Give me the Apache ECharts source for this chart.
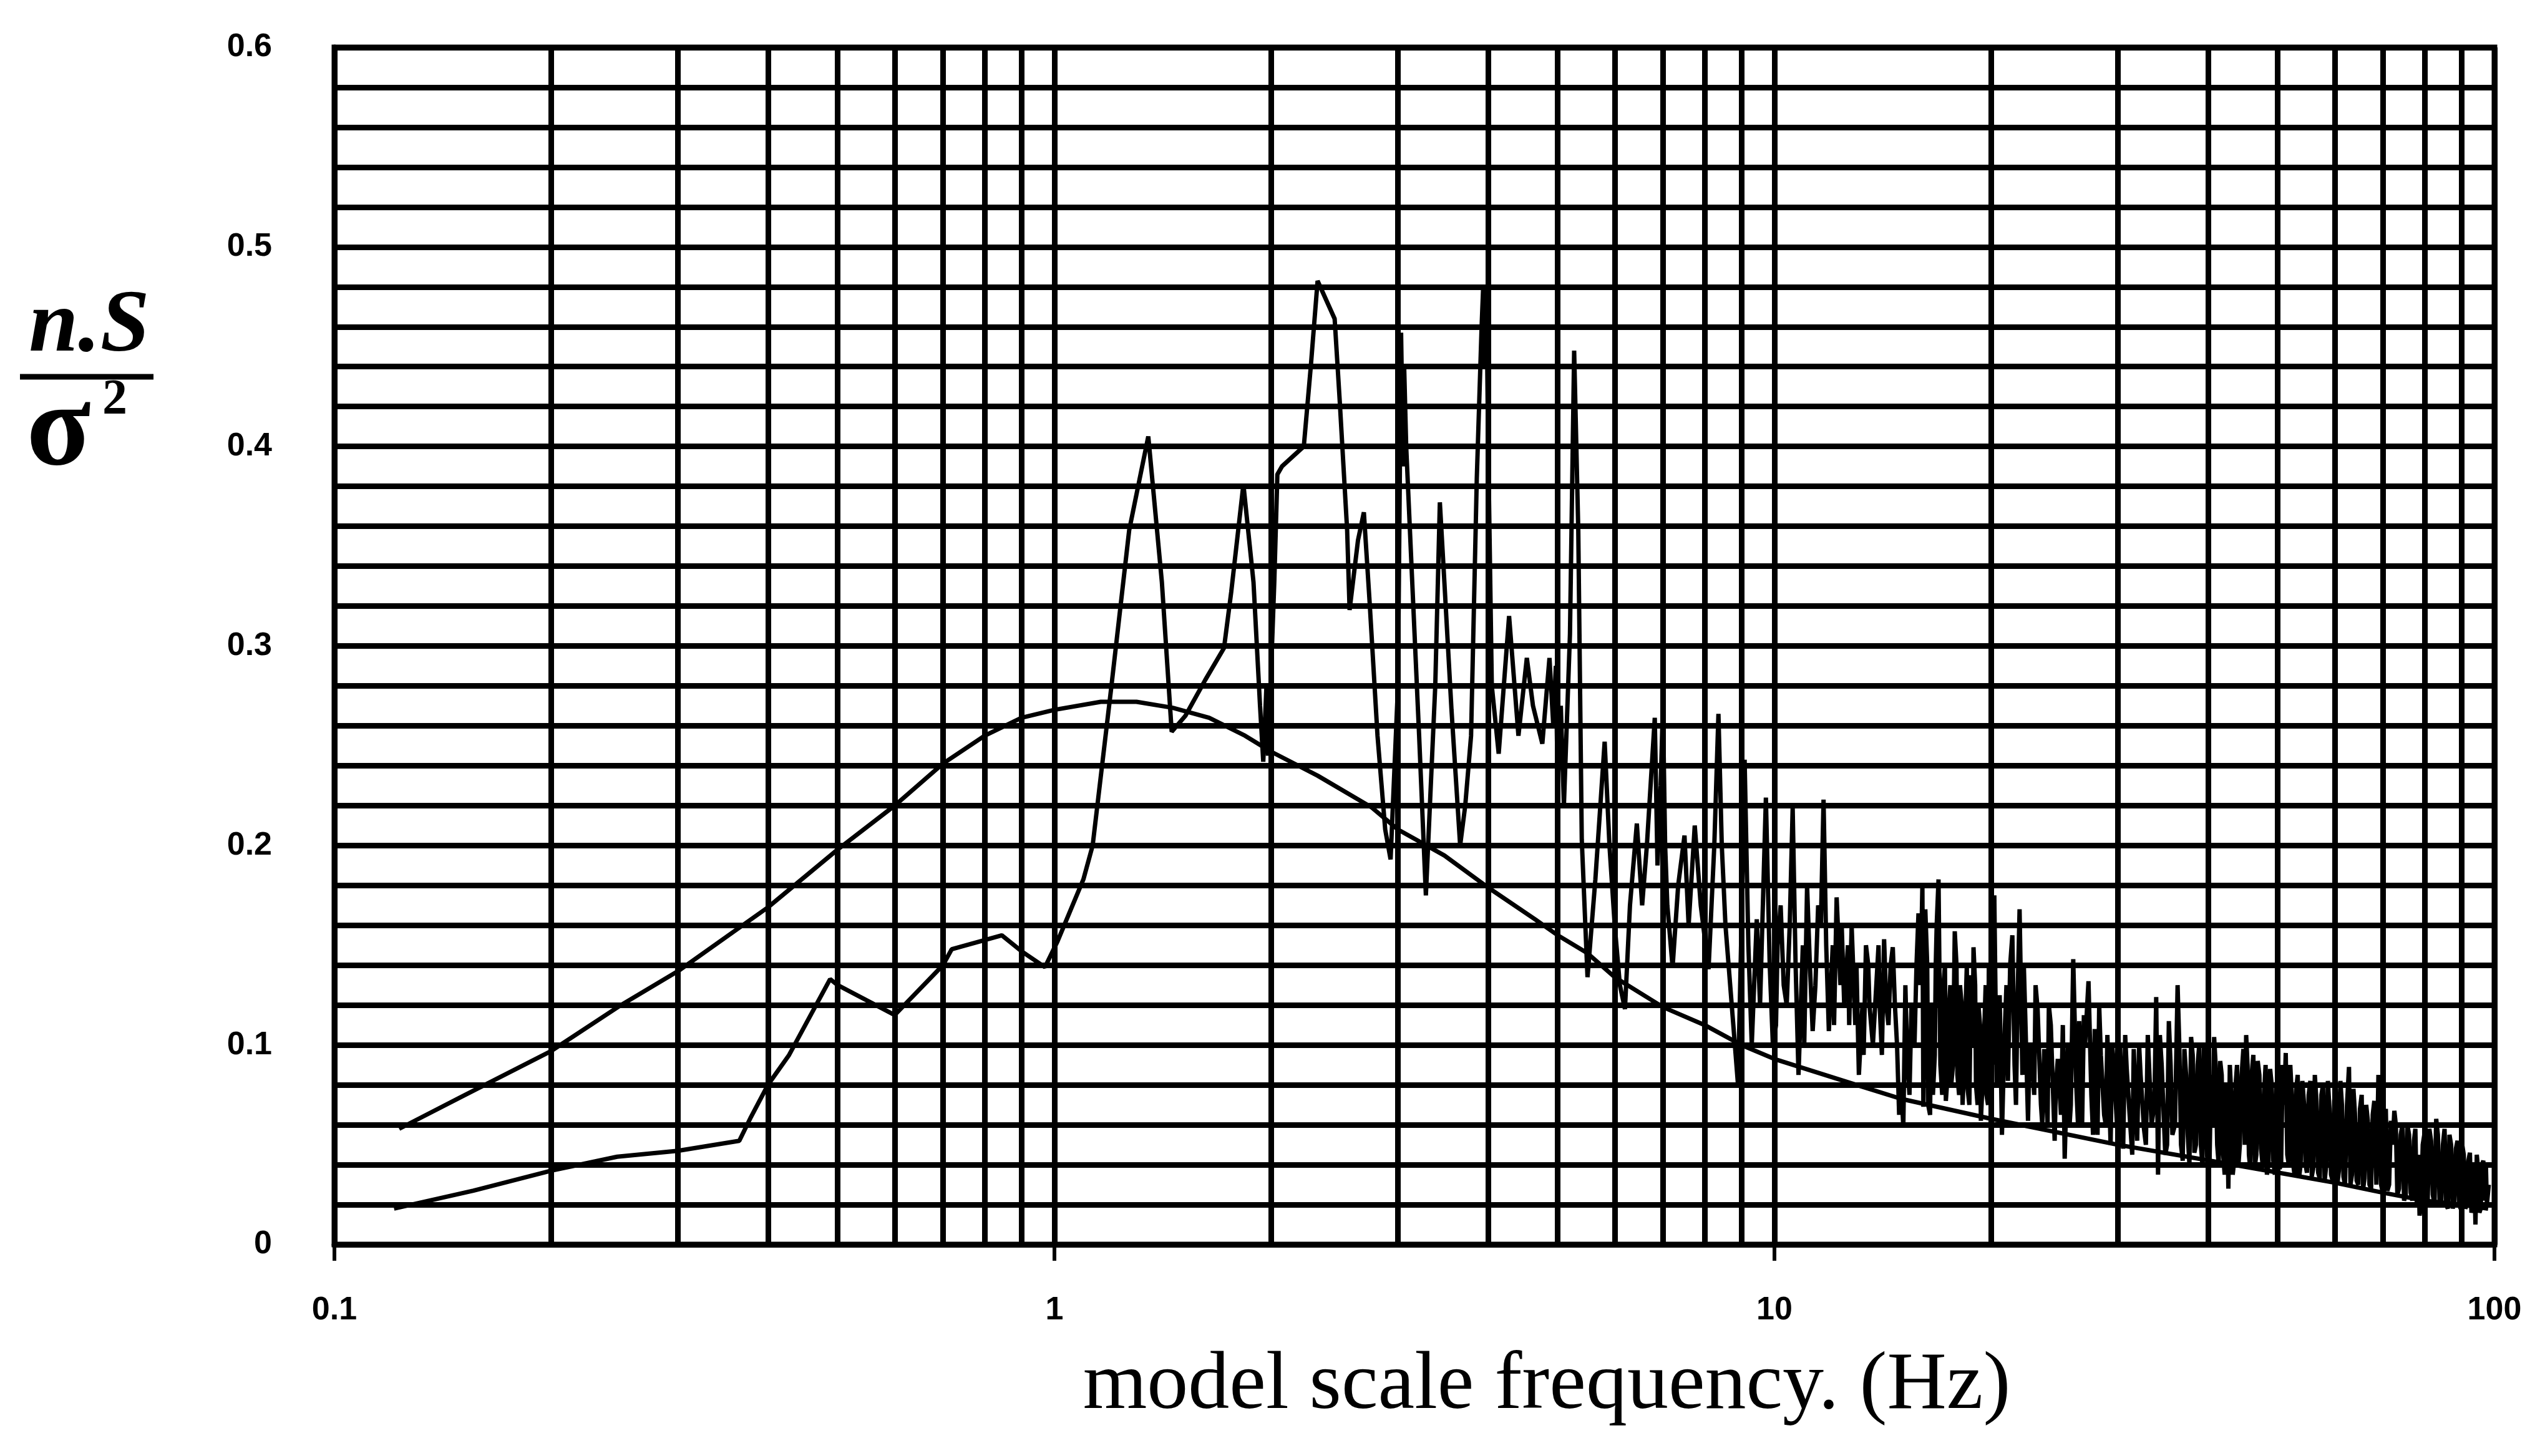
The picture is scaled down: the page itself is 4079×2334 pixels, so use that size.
<!DOCTYPE html>
<html>
<head>
<meta charset="utf-8">
<script src="https://cdn.jsdelivr.net/npm/echarts@6/dist/echarts.min.js"></script>
<style>
html,body{margin:0;padding:0;background:#fff;}
#chart{width:4079px;height:2334px;}
</style>
</head>
<body>
<div id="chart"></div>
<script>
// ---------- data ----------
const xTickLabels = ['0.1', '1', '10', '100'];
const yTickLabels = ['0', '0.1', '0.2', '0.3', '0.4', '0.5', '0.6'];
const minorXLines = [0.2,0.3,0.4,0.5,0.6,0.7,0.8,0.9,2,3,4,5,6,7,8,9,20,30,40,50,60,70,80,90];

// smooth (theoretical) spectrum
const theoryFreq = [0.123,0.15,0.2,0.25,0.3,0.4,0.5,0.6,0.7,0.8,0.9,1.0,1.16,1.3,1.46,1.64,1.84,2.0,2.32,2.76,3.0,3.48,4.0,4.65,5.0,5.5,6,7,8,9,10,13,15,20,30,45,60,70,80,90,98];
const theoryVal  = [0.058,0.074,0.097,0.12,0.137,0.169,0.198,0.22,0.241,0.255,0.264,0.268,0.272,0.272,0.269,0.264,0.255,0.247,0.235,0.219,0.208,0.195,0.179,0.163,0.155,0.146,0.134,0.119,0.11,0.10,0.093,0.08,0.073,0.063,0.05,0.039,0.031,0.026,0.022,0.02,0.018];

// measured spectrum, [frequency, n.S/sigma^2]
const measuredLow = [
[0.121,0.018],[0.156,0.027],[0.2,0.037],[0.247,0.044],[0.3,0.047],[0.365,0.052],[0.379,0.064],[0.4,0.08],
[0.428,0.095],[0.488,0.133],[0.5,0.13],[0.6,0.115],[0.7,0.14],[0.72,0.148],[0.845,0.155],[0.9,0.147],[0.97,0.139]
];
const measuredMid = [
[1.01,0.152],[1.097,0.183],[1.13,0.20],[1.20,0.28],[1.27,0.358],[1.35,0.405],[1.41,0.332],[1.455,0.257],
[1.52,0.265],[1.62,0.283],[1.72,0.299],[1.76,0.327],[1.83,0.381],[1.89,0.332],[1.93,0.27],[1.95,0.242],
[1.97,0.28],[1.98,0.245],[2.02,0.332],[2.04,0.386],[2.07,0.39],[2.22,0.40],[2.27,0.44],[2.32,0.483],
[2.45,0.464],[2.49,0.423],[2.55,0.358],[2.57,0.318],[2.64,0.353],[2.69,0.367],[2.74,0.322],[2.81,0.255],
[2.88,0.208],[2.93,0.193],[3.0,0.28],[3.03,0.457],[3.05,0.39],[3.06,0.44],[3.08,0.40],[3.14,0.332],
[3.21,0.255],[3.28,0.175],[3.38,0.28],[3.43,0.372],[3.48,0.332],[3.56,0.268],[3.66,0.20],[3.72,0.22],
[3.79,0.255],[3.86,0.384],[3.92,0.46],[3.94,0.48],[3.96,0.44],[3.98,0.48],[4.0,0.41],[4.05,0.28],
[4.14,0.246],[4.28,0.315],[4.41,0.255],[4.53,0.294],[4.62,0.27],[4.76,0.251],[4.87,0.294],[4.93,0.26],
[4.97,0.29],[5.0,0.229],[5.05,0.27],[5.1,0.22],[5.2,0.306],[5.27,0.448],[5.34,0.358],[5.40,0.203],
[5.5,0.134],[5.64,0.183]
];
const measuredHigh1 = [
[5.81,0.252],[5.9,0.2],[6.0,0.16],[6.1,0.13],[6.2,0.118],[6.3,0.17],[6.44,0.211],[6.55,0.17],[6.65,0.2],
[6.82,0.264],[6.88,0.19],[6.95,0.23],[7.0,0.27],[7.05,0.2],[7.1,0.17],[7.22,0.139],[7.35,0.18],[7.5,0.205],
[7.6,0.16],[7.75,0.21],[7.9,0.17],[8.1,0.138],[8.25,0.2],[8.36,0.266],[8.45,0.2],[8.55,0.16],[8.75,0.114],
[8.9,0.08],[9.0,0.16],[9.09,0.243],[9.2,0.15],[9.3,0.10],[9.45,0.163],[9.55,0.12],[9.73,0.224],[9.85,0.14],
[9.95,0.10],[10.1,0.15],[10.2,0.17],[10.3,0.13],[10.4,0.12],[10.6,0.219],[10.7,0.14],[10.8,0.085],[10.95,0.15],
[11.1,0.18],[11.2,0.14],[11.3,0.107],[11.5,0.17],[11.7,0.223],[11.8,0.15],[11.9,0.107],[12.05,0.15],[12.2,0.174],
[12.35,0.13],[12.5,0.12],[12.65,0.15],[12.8,0.16],[12.95,0.11],[13.1,0.085],[13.25,0.12],[13.4,0.15],[13.55,0.12],
[13.7,0.10],[13.85,0.13],[14.0,0.12],[14.2,0.153],[14.3,0.12],[14.4,0.11],[14.5,0.14],[14.6,0.149],[14.8,0.1],
[15.0,0.08],[15.1,0.059],[15.3,0.09],[15.5,0.12],[15.65,0.1],[15.85,0.166],[15.95,0.13],[16.05,0.18],[16.1,0.069]
];
const measuredHigh2 = [
[16.2,0.168],[16.35,0.07],[16.5,0.12],[16.6,0.075],[16.75,0.14],[16.9,0.183],[17.0,0.09],[17.15,0.128],
[17.3,0.072],[17.45,0.115],[17.6,0.08],[17.8,0.157],[17.95,0.085],[18.1,0.13],[18.25,0.07],[18.4,0.11],
[18.55,0.078],[18.75,0.135],[18.9,0.149],[19.05,0.08],[19.2,0.12],[19.35,0.062],[19.55,0.105],[19.7,0.075],
[19.85,0.14],[20.05,0.09],[20.2,0.175],[20.35,0.08],[20.55,0.125],[20.7,0.055],[20.9,0.11],[21.1,0.082],
[21.25,0.14],[21.4,0.155],[21.55,0.09],[21.75,0.12],[21.9,0.168],[22.1,0.085],[22.3,0.115],[22.5,0.062],
[22.7,0.1],[22.95,0.075],[23.2,0.118],[23.45,0.07],[23.7,0.098],[23.95,0.06],[24.2,0.11],[24.5,0.052],
[24.75,0.093],[25.0,0.065],[25.3,0.043],[25.55,0.1],[25.8,0.07],[26.0,0.143],[26.25,0.08],[26.5,0.112],
[26.75,0.06],[27.0,0.1],[27.3,0.132],[27.55,0.075],[27.85,0.108],[28.1,0.055],[28.4,0.095],[28.7,0.065],
[29.0,0.105],[29.3,0.05],[29.6,0.09],[29.9,0.06],[30.2,0.1],[30.5,0.048],[30.85,0.088],[31.2,0.06],
[31.55,0.098],[31.9,0.052],[32.25,0.085],[32.6,0.058],[33.0,0.105],[33.4,0.06],[33.9,0.124],[34.1,0.035],
[34.5,0.09],[34.9,0.045],[35.3,0.112],[35.7,0.055],[36.3,0.13],[36.7,0.05],[37.1,0.098],[37.5,0.055],
[37.9,0.104],[38.3,0.046],[38.7,0.09],[39.1,0.05],[39.5,0.1],[39.9,0.044]
];
const measuredHigh3 = [
[40.4,0.085],[40.8,0.104],[41.2,0.05],[41.6,0.092],[42.0,0.045],[42.4,0.08],[42.7,0.028],[43.1,0.075],
[43.5,0.042],[43.9,0.09],[44.3,0.05],[44.8,0.098],[45.2,0.105],[45.6,0.045],[46.0,0.085],[46.5,0.04],
[46.9,0.092],[47.4,0.048],[47.9,0.078],[48.3,0.035],[48.8,0.088],[49.3,0.042],[49.8,0.08],[50.3,0.038],
[50.8,0.09],[51.3,0.096],[51.8,0.04],[52.3,0.075],[52.8,0.034],[53.3,0.085],[53.8,0.04],[54.4,0.07],
[54.9,0.036],[55.5,0.082],[56.0,0.038],[56.6,0.072],[57.2,0.033],[57.8,0.08],[58.4,0.04],[59.0,0.068],
[59.6,0.032],[60.2,0.078],[60.8,0.037],[61.4,0.07],[62.0,0.03],[62.8,0.089],[63.4,0.035],[64.0,0.066],
[64.7,0.03],[65.4,0.075],[66.0,0.033],[66.7,0.062],[67.4,0.028],[68.1,0.072],[69.0,0.085],[69.6,0.03],
[70.3,0.058],[71.0,0.027],[71.8,0.062],[72.6,0.067],[73.3,0.025],[74.1,0.055],[74.9,0.022],[75.7,0.06],
[76.5,0.026],[77.3,0.052],[78.0,0.02],[78.7,0.0145],[79.5,0.05],[80.3,0.022],[81.2,0.058],[82.1,0.025],
[83.0,0.063],[83.9,0.022],[84.8,0.05],[85.7,0.02],[86.6,0.055],[87.5,0.018],[88.4,0.048],[89.3,0.02],
[90.2,0.05],[91.1,0.018],[92.0,0.042],[92.9,0.016],[93.6,0.04],[94.1,0.010],[94.9,0.038],[95.7,0.018],
[96.5,0.042],[97.0,0.036],[97.6,0.02],[98.2,0.03]
];
// additional readings between the points above (dense band, 10-100 Hz)
const measuredDense = [
[10.05,0.11],[10.5,0.16],[11.0,0.1],[11.4,0.13],[11.6,0.16],[12.1,0.11],[12.4,0.16],[12.7,0.11],[13.0,0.14],
[13.3,0.095],[13.5,0.14],[13.95,0.15],[14.1,0.095],[14.7,0.12],[14.9,0.065],[15.2,0.13],[15.4,0.075],[15.75,0.14],
[16.15,0.12],[16.3,0.14],[16.45,0.065],[16.7,0.095],[16.8,0.16],[17.1,0.075],[17.25,0.14],[17.4,0.085],[17.55,0.13],
[17.7,0.09],[17.9,0.14],[18.05,0.075],[18.2,0.12],[18.35,0.09],[18.5,0.14],[18.65,0.07],[18.85,0.1],[19.0,0.13],
[19.15,0.07],[19.3,0.11],[19.45,0.08],[19.65,0.13],[19.8,0.07],[19.95,0.115],
[20.12,0.13],[20.45,0.1],[20.8,0.085],[21.0,0.13],[21.65,0.07],[22.2,0.14],[22.6,0.095],[23.05,0.13],[23.55,0.06],
[24.05,0.12],[24.6,0.08],[25.15,0.11],[25.7,0.06],[26.4,0.06],[26.9,0.115],[27.7,0.055],[28.25,0.12],[28.85,0.06],
[29.45,0.1],[30.05,0.05],[30.7,0.105],[31.4,0.045],[32.1,0.1],[32.8,0.05],[33.7,0.07],[34.3,0.105],[35.1,0.05],
[35.5,0.09],[36.0,0.06],[36.5,0.1],[36.9,0.042],[37.3,0.085],[37.7,0.04],[38.1,0.095],[38.5,0.05],[38.9,0.1],
[39.3,0.04],[39.7,0.085],[40.2,0.04],[40.6,0.06],[41.0,0.09],[41.4,0.04],[41.8,0.085],[42.2,0.035],[42.55,0.065],
[42.9,0.09],[43.3,0.035],[43.7,0.08],[44.1,0.04],[44.55,0.085],[45.0,0.05],[45.4,0.09],[45.8,0.038],[46.25,0.095],
[46.7,0.045],[47.15,0.085],[47.65,0.04],[48.1,0.09],[48.55,0.04],[49.05,0.08],[49.55,0.035],[50.05,0.085],[50.55,0.04],
[51.05,0.07],[51.55,0.045],[52.05,0.09],[52.55,0.04],[53.05,0.078],[53.55,0.034],[54.1,0.082],[54.65,0.04],[55.2,0.075],
[55.75,0.034],[56.3,0.085],[56.9,0.036],[57.5,0.075],[58.1,0.032],[58.7,0.082],[59.3,0.035],[59.9,0.072],[60.5,0.03],
[61.1,0.082],[61.7,0.034],[62.4,0.07],[63.1,0.03],[63.7,0.078],[64.35,0.032],[65.05,0.068],[65.7,0.028],[66.35,0.07],
[67.05,0.03],[67.75,0.065],[68.55,0.03],[69.3,0.06],[69.95,0.026],[70.65,0.068],[71.4,0.03],[72.2,0.05],[72.95,0.06],
[73.7,0.028],[74.5,0.06],[75.3,0.025],[76.1,0.055],[76.9,0.022],[77.65,0.058],[78.35,0.045],[79.1,0.02],[79.9,0.055],
[80.75,0.02],[81.65,0.052],[82.55,0.02],[83.45,0.055],[84.35,0.02],[85.25,0.058],[86.15,0.018],[87.05,0.05],[87.95,0.022],
[88.85,0.052],[89.75,0.018],[90.65,0.045],[91.55,0.02],[92.45,0.046],[93.25,0.018],[93.85,0.03],[94.5,0.045],[95.3,0.016],
[96.1,0.04],[96.8,0.022],[97.3,0.04],[97.9,0.025]
];

// ---------- chart ----------
const theoryData = theoryFreq.map((f, i) => [f, theoryVal[i]]);
const measuredData = measuredLow.concat(measuredMid, measuredHigh1, measuredHigh2, measuredHigh3, measuredDense)
  .sort((a, b) => a[0] - b[0]);

const GRIDW = 9;
const chart = echarts.init(document.getElementById('chart'), null, {renderer: 'canvas'});
chart.setOption({
  backgroundColor: '#ffffff',
  animation: false,
  grid: {left: 536, right: 81, top: 76, bottom: 339, show: true, borderColor: '#000', borderWidth: GRIDW, backgroundColor: 'transparent'},
  xAxis: {
    type: 'log', logBase: 10, min: 0.1, max: 100,
    axisLine: {show: true, lineStyle: {color: '#000', width: GRIDW}},
    axisTick: {show: true, length: 26, lineStyle: {color: '#000', width: 6}},
    splitLine: {show: true, lineStyle: {color: '#000', width: GRIDW}},
    minorTick: {show: false}, minorSplitLine: {show: false},
    axisLabel: {
      margin: 80, color: '#000', fontFamily: 'Liberation Sans', fontWeight: 'bold', fontSize: 52,
      formatter: (v, i) => xTickLabels[i] !== undefined ? xTickLabels[i] : ''
    }
  },
  yAxis: {
    type: 'value', min: 0, max: 0.6, interval: 0.1,
    axisLine: {show: true, lineStyle: {color: '#000', width: GRIDW}},
    axisTick: {show: false},
    splitLine: {show: true, lineStyle: {color: '#000', width: GRIDW}},
    minorTick: {show: false, splitNumber: 5},
    minorSplitLine: {show: true, lineStyle: {color: '#000', width: GRIDW}},
    axisLabel: {
      margin: 100, color: '#000', fontFamily: 'Liberation Sans', fontWeight: 'bold', fontSize: 52,
      formatter: (v, i) => yTickLabels[i] !== undefined ? yTickLabels[i] : ''
    }
  },
  series: [
    {
      type: 'line', data: [], z: 1, silent: true,
      markLine: {
        silent: true, symbol: ['none', 'none'], animation: false,
        label: {show: false},
        lineStyle: {color: '#000', width: GRIDW, type: 'solid'},
        emphasis: {disabled: true},
        data: minorXLines.map(v => ({xAxis: v}))
      }
    },
    {
      name: 'theory', type: 'line', data: theoryData, z: 3,
      showSymbol: false, smooth: false,
      lineStyle: {color: '#000', width: 7}
    },
    {
      name: 'measured', type: 'line', data: measuredData, z: 4,
      showSymbol: false, smooth: false,
      lineStyle: {color: '#000', width: 7}
    }
  ],
  graphic: [
    {type: 'text', x: 143, y: 525, style: {text: 'n.S', fontFamily: 'Liberation Serif', fontStyle: 'italic', fontWeight: 'bold', fontSize: 142, fill: '#000', textAlign: 'center', textVerticalAlign: 'middle'}},
    {type: 'line', shape: {x1: 32, y1: 604, x2: 246, y2: 604}, style: {stroke: '#000', lineWidth: 9}},
    {type: 'text', x: 94, y: 695, style: {text: 'σ', fontFamily: 'Liberation Serif', fontWeight: 'bold', fontSize: 190, fill: '#000', textAlign: 'center', textVerticalAlign: 'middle'}},
    {type: 'text', x: 184, y: 642, style: {text: '2', fontFamily: 'Liberation Serif', fontWeight: 'bold', fontSize: 80, fill: '#000', textAlign: 'center', textVerticalAlign: 'middle'}},
    {type: 'text', x: 2479, y: 2222, style: {text: 'model scale frequency. (Hz)', fontFamily: 'Liberation Serif', fontSize: 132, fill: '#000', textAlign: 'center', textVerticalAlign: 'middle'}}
  ]
});
</script>
</body>
</html>
